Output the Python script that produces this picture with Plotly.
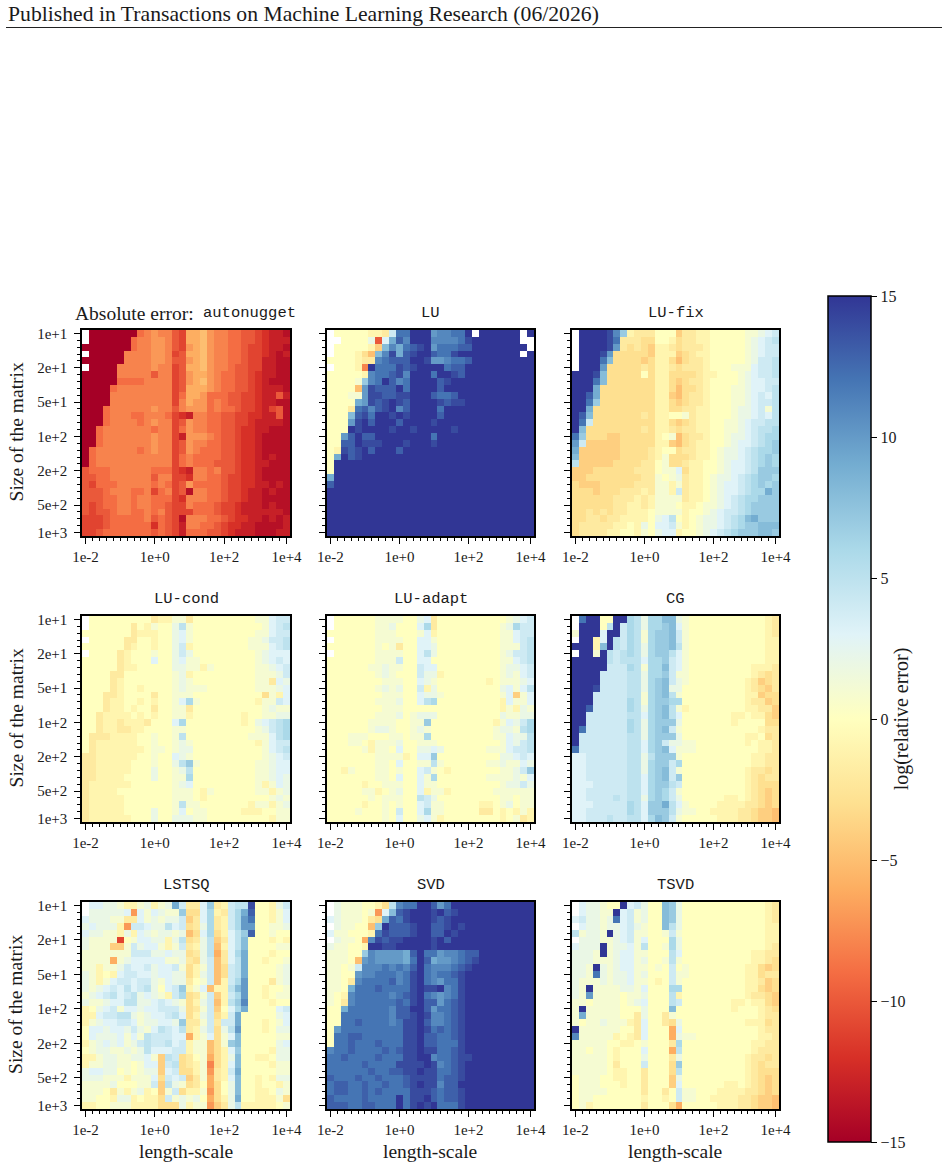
import plotly.graph_objects as go

# Error grids: one string per matrix size, one character per length-scale.
# '0'-'9','A'-'F' are 0..15, 'a'-'o' are -1..-15, '.' is a missing run.
AUTONUGGET = [
".oooo oooih ghhjk ffegh hiijj klmmn",
".oooo ooihh gghjk ffegh hiijj klmmm",
"ooooo ooihh gghjk gfegh hiijk klmmn",
".oooo ohhhh gghkj ffegh hiijk klmnm",
"ooooo ohhhh gghjj gfegh hiijk kmmnn",
".oooo hhhhh ghhkj ffegh hijjk kmmnn",
"ooooo hhhhh jhhkj gffgh iijjk lmmnn",
"ooooo iiiih hhhkj gfegh iijjk lmnnn",
"ooooi hhhhh hhhkj fffgh iijjk lmmmn",
"ooooh hhhhh hhhki ffgii ijjkk lmmjm",
"ooooh hhhhh hhhkh fggih ijjkk lmmnn",
"oooih hhhhh ghhjh gggih iijkk lmkjn",
"oooih hhiih hhikl mhhii jjkkl lmmjn",
"oooih hhhih ghhkj ghhii jjkkl mmmmn",
"ooihh hhhhh ihhki ghhii jjkll mmnnn",
"ooihh hhhhh ghhkm ggghi jjkll mnnnn",
"ooihh hhhhh ghhkj ghhii jjkll mnnnn",
"oihhh hhhih ghhkj ghiii jjkll mnnnn",
"oihhh hhhhh hhhki hiiii jjkll mnmnn",
"oihhh hhhhh hhhki hiiij jjkll mmnnn",
"jiiih hhhhh iiikl mhhih jjkll mnnnn",
"jjiih hhhhh jhhkk lhhii jkkll mnnnn",
"jkiii hhhhh ihikj giiii jkkll mmnmn",
"jjjih hhiih kihkj nhhii jkklm mnmnn",
"jjjii hhihh iiikl hhhii jkklm mnnnn",
"jkjii hhihh iijkk hiiij kklmm mnmnn",
"jkjji hhiih ihjkk kiiij kklmm mmmmn",
"kkkji iiiih jijkn hhhii jkllm mnmnm",
"kkkji iiiii lijkm hhiij kllmm nnnnm",
"kkjii iiiii jijkm iiijj klmmm nnnmm",
]
LU = [
".0000 0aab4 CCFFF ABBCC F.FFF FFF.F",
"..000 02j39 DBFFF BBBBC EFFFF FFF..",
".0000 0ad8B 9CDEF ACCCD DFFFF FFFF.",
".000a ce8BE 9DEFF DCCEF FFFFF FFF.F",
"0000a bbBCD DDFFE AABCC DFFFF FFFFF",
".000a hFCCC EDEFF FFCDD FFFFF FFFFF",
"00000 aBCCD EBFFF CFFED FFFFF FFFFF",
"00001 7BCFD BCFFF FDEFF FFFFF FFFFF",
"0000e AEDDD FCFFF FDFFF FFFFF FFFFF",
"00011 AEEDD EEFFF DCCDF FFFFF FFFFF",
"00009 AEDEF EDFFF FEDEE FFFFF FFFFF",
"000bC DBDEF BDFFF FCFFF FFFFF FFFFF",
"0008D ECFFE FEFFF FDFFF FFFFF FFFFF",
"000AE FDFFF DFFFF EFFFF FFFFF FFFFF",
"000FE FFFFE FFEFF FFFEF FFFFF FFFFF",
"00ADF DDFFF FFFFF CFFFF FFFFF FFFFF",
"00DDF EEEFF FEFFF EFFFF FFFFF FFFFF",
"0aEDE FDFFF DFFFF FFFFF FFFFF FFFFF",
"09FDE FFFFF FFFFF FFFFF FFFFF FFFFF",
"0FFFF FFFFF FFFFF FFFFF FFFFF FFFFF",
"0FFFF FFFFF FFFFF FFFFF FFFFF FFFFF",
"9FFFF FFFFF FFFFF FFFFF FFFFF FFFFF",
"DFFFF FFFFF FFFFF FFFFF FFFFF FFFFF",
"FFFFF FFFFF FFFFF FFFFF FFFFF FFFFF",
"FFFFF FFFFF FFFFF FFFFF FFFFF FFFFF",
"FFFFF FFFFF FFFFF FFFFF FFFFF FFFFF",
"FFFFF FFFFF FFFFF FFFFF FFFFF FFFFF",
"FFFFF FFFFF FFFFF FFFFF FFFFF FFFFF",
"FFFFF FFFFF FFFFF FFFFF FFFFF FFFFF",
"FFFFF FFFFF FFFFF FFFFF FFFFF FFFFF",
]
LU_FIX = [
".FFFF EB7ab bb000 dbbaa 00000 11234",
".FFFF ECbbb cc00a cbbaa 00000 12345",
".FFFF EAbcb cdaab cbbba 00000 12344",
".FFFE Acccc cdaaa dcbaa 00000 12344",
".FFFC 8cccc dcaac ecbba 00000 12445",
".FFFA ccccc bcaab cbbba 00011 13445",
"FFFE8 ccccc 0caac cccba a0001 23445",
"FFFC8 ccccc ccaac dcbba 00001 23344",
"FFF9c ccccc ccaac eccba 00011 23345",
"FFD9c ccccc ccaad ecbba 00011 23435",
"FFC7c ccccc ccaac dcbba 00011 23445",
"FF9cc ccccc ccaac cbbaa 00012 23415",
"FD8cc ccccc bcaa0 01baa 00012 23435",
"FC4cc ccccc ccaac dcbaa 00112 34455",
"F8ccc ccccc bcaab cbbaa 00112 34556",
"C7ccc ddccc cca01 ecbba 00122 34566",
"A4ddd ddccc ccaad ecbaa 00123 34567",
"9dddd ddccc cba00 cbbaa 01223 45667",
"8dddd ddccc cba1c ccbaa 01223 45676",
"5dddd dcccc bb01c cbaa0 01233 45676",
"dddcc ccccb bb011 3caa0 01233 45777",
"ddccc ccccc bb101 2baa0 12234 56776",
"cdddc ccccb bb11a 1baa0 12334 56767",
"cccdc ccbbb ab11a 4baa0 12334 56697",
"ccccc cbbba ba111 1baa0 12345 66777",
"ccccc cbbaa ba111 0aa01 12345 67777",
"ccbcb cbbaa a0111 1a001 23445 67777",
"ccbbc bbaaa a0235 0a012 23456 89777",
"cbbbb baa0a 20334 1a012 23456 77888",
"cbbbb aa00a 10233 a0012 34567 77887",
]
LU_COND = [
".0000 00000 baa11 b0000 00000 11344",
".0000 00b0a 10025 10000 00000 01345",
"00000 00baa a0023 10000 00000 11344",
".0000 0bb00 a0023 10000 00001 12445",
"00000 0ba00 a0024 a0000 00001 11345",
".0000 ba000 10024 20000 00000 12333",
"00000 ba000 30023 11000 00000 12343",
"00000 baa00 00022 11a10 00000 11234",
"0000b b0000 00012 a0000 00000 11124",
"0000b a0000 00012 10000 00000 11b32",
"0000b a00a0 00012 11100 00000 11123",
"000bb a0000 b0011 10000 00000 0c1a3",
"000ba a00a0 a0013 61000 00000 a1143",
"000ba a0a00 b0011 b0000 00000 01211",
"00baa aa0a0 a0011 a0000 000a0 01122",
"00baa baaab 00036 00000 000a0 23456",
"00baa bbaa0 00011 00000 00000 12456",
"0bbba aaa00 10015 00000 00001 11356",
"0baaa aaa00 10012 10000 00000 a1344",
"0baaa aaaa0 11012 20000 00000 01345",
"bbaaa aaa00 10032 10000 00000 01234",
"bbaaa aa000 10025 71000 00000 11233",
"bbaaa aa000 20012 50000 00000 11233",
"bbaaa a0000 20011 60000 00000 11232",
"baaaa aa000 00012 30000 00000 1a132",
"baaaa 00000 00011 10a10 00000 11a12",
"baaaa a0000 00011 10a00 00000 00121",
"baaaa a0000 00015 11000 0000a 11a12",
"baaaa a0000 20013 01100 000aa a0011",
"baaaa aa000 20022 21100 00000 00a11",
]
LU_ADAPT = [
".0000 00111 10023 b0000 00000 01234",
".0000 00112 00036 b0000 00000 12644",
"00000 00111 00013 a0000 00000 11344",
".0000 00111 10033 10000 00000 11345",
"00000 00101 b0033 20000 00000 11145",
".0000 00111 10035 20000 00000 12445",
"00000 00111 40033 00000 00000 11345",
"00000 01121 10043 30000 00000 12234",
"00000 00121 00042 2a000 00000 12134",
"00000 00011 10032 10000 000a0 11123",
"00000 00121 2004a 20000 00000 23135",
"00000 00011 10032 21000 00000 13d13",
"00000 00111 20035 60000 00000 a3113",
"00000 00011 10000 00000 00000 a1a21",
"00000 00111 20122 20000 00000 21122",
"00000 01111 00117 00000 0000a 13246",
"00000 01221 00121 00000 00001 22156",
"00011 10001 10116 00000 00001 13225",
"00011 0a111 20011 10000 00000 13245",
"00000 1a110 30022 32000 00011 13445",
"00000 00111 1a033 70000 00000 22343",
"00000 00110 30011 51000 00011 21132",
"00a10 00110 10034 10a00 00000 11247",
"00000 00110 30031 60000 00011 11213",
"00000 a0011 10031 10000 00000 12242",
"00000 11a01 2003a 11a00 00001 11111",
"00000 01011 10054 20000 00000 11011",
"00000 a0010 10034 11000 00aa0 12011",
"00001 00010 40036 11000 00bb0 a0a1a",
"00000 00010 30023 1a000 00000 a01ba",
]
CG = [
".CFF0 0FF65 26688 21000 00000 000ab",
".FFF0 5F465 26678 31000 00000 000ab",
"1FFF3 FF465 16778 41000 00000 000ab",
".FFa3 F5465 16778 41000 00000 000aa",
"FFFa8 F5465 26778 51000 00000 000aa",
".FF1F 54565 26775 31000 00000 000aa",
"FFFFF 54555 36674 31000 00000 000aa",
"FFFFF 44465 16684 31000 00000 0aaab",
"FFFF4 44455 26674 11000 00000 0abcb",
"FFFF4 44455 26784 21000 00000 abdcb",
"FFFE4 44455 26782 20000 00000 abcdb",
"FFF44 44455 16785 10000 00000 aadcc",
"FFF44 44465 16776 60000 00000 abbdc",
"FFD44 44465 26785 1a000 00000 aabbd",
"FF444 44455 36785 30000 000aa 0aacd",
"FF444 44465 26777 20000 000a0 000cc",
"FC444 44465 26784 10000 00000 00abb",
"F4444 44455 26777 20000 00000 aa0cb",
"F4444 44455 36742 21100 00000 a0aab",
"C4444 44455 36783 11100 00000 00aab",
"33444 44455 25777 10000 00000 0aabb",
"33444 44455 26774 60000 00000 0aabb",
"33444 44455 26784 10000 00000 abbcb",
"33444 44455 36784 70000 00000 abcbb",
"33344 44455 36775 40000 00000 abccc",
"33444 44455 36764 10000 00000 abcdc",
"33444 45455 26764 20000 00aa0 abcdc",
"33344 44465 37795 31000 0aaaa bbcdc",
"33444 44465 37775 21100 aaaab bcdde",
"33444 54455 36874 10000 0aaab bcdde",
]
LSTSQ = [
".3322 1aa12 a1294 bb37b a455E 00a24",
".2222 23g31 32117 cc36a b469D 00a13",
"32221 1bb31 21224 db36b a46AC 00a13",
"23222 ag443 22534 cb26b a46AA 00112",
"32211 a2a32 12212 ec36c a357D 00100",
"21111 k0133 22a25 cb25d b3580 00a0a",
"2111d d1423 31a14 ba25e a3580 00011",
"11111 11444 22322 cb25f b3690 00a00",
"1111f 12333 33112 bc24e b3590 0a001",
"11a11 24334 23341 ca14e c4590 00012",
"21a0a 34433 23322 ca24e c4590 00012",
"21a13 44344 21322 b014e a46A0 00b12",
"21234 35345 20347 a13ea a58A0 0a001",
"12345 34523 21a46 cb14d a46A0 0a011",
"21123 35522 34321 ca24e a57B0 00a00",
"a0234 13323 34442 cb14d 03690 00034",
"aa344 55212 33453 ca24c a4900 00023",
"a1233 44312 23327 bb14b 44900 0a013",
"03323 32421 35435 ba24c 25A00 0a022",
"03222 31315 44433 fa13c 13800 00011",
"a1232 31245 44534 a11ec 17800 00023",
"01221 12125 33344 a11ec a3700 00a22",
"aa122 11223 1d54c b01fc a2800 aa022",
"a1122 11013 3d45c ba1hc a3800 00a11",
"23322 01012 2d34c ca1gb a4900 00011",
"22211 1a111 3c434 db1fb a3800 a0a22",
"11112 00011 4d521 cb0fc 02800 a00a1",
"1110b 1a12a 0d14c aa1gc 02800 aa021",
"1100a 22a0a ac412 120fc a2900 aaa1c",
"aa001 11aaa accc2 a11gd b25aa aaa01",
]
SVD = [
".2111 00ac5 BCCFF DACFF FFFFF FFFFF",
".2111 01g38 DEFFF EFDEF FFFFF FFFFF",
"32111 0bc9D CEFFF EDEFF FFFFF FFFFF",
".2110 0e7FD DDEFF DDEFE FFFFF FFFFF",
"31100 0aCED DDEFF DDFEF FFFFF FFFFF",
".2110 fBEDE EFFFF EFDFF FFFFF FFFFF",
"21100 aFFEE FFFFF EFFFF FFFFF FFFFF",
"11100 7BAAA A9DFC CABBC DDFFF FFFFF",
"1110e ABAAA A9CFD 9AABC DEFFF FFFFF",
"11014 BBBCB CBDFC BBBCD EFFFF FFFFF",
"1100A BBCCC BCEFC BCCDE FFFFF FFFFF",
"110bB CCCCD BCEFC BACCE FFFFF FFFFF",
"1109C CCDCC CCEFE EFBCE FFFFF FFFFF",
"10aBC CCCCB CDEFC BABCE FFFFF FFFFF",
"10bBC CCCCC DCEFD DACDE FFFFF FFFFF",
"009CC CCCCB DDFFD ACCDE FFFFF FFFFF",
"00CCC CCCCB DDEFE BBCDE FFFFF FFFFF",
"00CCD CCCCB CEEFD BBCDE FFFFF FFFFF",
"0ACCC CCCCC CEEFE CDCDE FFFFF FFFFF",
"0CCDD CCCCC CEEFD DCCDE FFFFF FFFFF",
"0CCDC CCDCC CEEFD DCCCE FFFFF FFFFF",
"BCCDC CCCDC DEEFE ECCDE FFFFF FFFFF",
"CCDCC CCDCC CEEFF BCCDE EFFFF FFFFF",
"CCCCC DCCCC EEEEF EBCDE FFFFF FFFFF",
"CCCCC CDCCD DEEFE ECCDE FFFFF FFFFF",
"DCCCD CCDCC CDEEE ECDDE FFFFF FFFFF",
"CDDCC DCCDC CDEFE EBDDF FFFFF FFFFF",
"CDDCC DCDCC CCEEE DCDDE FFFFF FFFFF",
"DCCCC DCCCC FCEEF DCDDE FFFFF FFFFF",
"DDDCC DDCCC FCEFE FCCCE FFFFF FFFFF",
]
TSVD = [
".3221 00F34 20087 20000 00000 000ab",
".3221 1F341 20087 20000 00000 000ab",
"34221 2C341 20087 20000 00000 000ab",
".3221 22342 10085 20000 00000 000aa",
"51221 F2341 10014 10000 00000 000aa",
".2221 12341 30006 20000 00000 000aa",
"3222F 12231 50016 20000 00000 000ab",
"2221F 12331 10005 30000 00000 0aabb",
"22211 12331 20015 10000 00000 0aabc",
"221F2 12331 10104 01000 00000 aacdc",
"221C2 12231 20004 11000 00000 aacbb",
"21112 12231 10a04 10000 00000 aabdc",
"21F11 11221 30006 60000 00000 aacdc",
"21A11 11011 20005 a0000 00000 abbcd",
"11011 11012 30005 40000 000aa 0aacd",
"1F111 11000 20008 00000 000a0 00abc",
"19111 1100b 200b1 00000 00000 00abb",
"10112 111ab 300bc 20000 00000 aaacb",
"F1111 1100b 3000f 30000 00000 00abb",
"B1111 1a0ab 3000f 21100 00000 00aab",
"11111 00aa0 1000b 60000 00000 0aabb",
"11011 0a000 3000f 50000 00000 0abbb",
"11111 0a000 2000b 20000 00000 abbcb",
"11111 0b000 4000c 70000 00000 abcbb",
"11111 0aa00 b000c 50000 00000 abccc",
"01110 0aa00 b000d 20000 00000 abcdc",
"01110 00a00 b000d 30000 00aa0 abcdc",
"01111 00000 b00b0 41100 0aaaa bbcdc",
"01100 00000 a00a0 41100 aaaab bcdde",
"01a00 00000 b000c f0000 0aaab bcdde",
]

PANELS = [
    ("", AUTONUGGET), ("LU", LU), ("LU-fix", LU_FIX),
    ("LU-cond", LU_COND), ("LU-adapt", LU_ADAPT), ("CG", CG),
    ("LSTSQ", LSTSQ), ("SVD", SVD), ("TSVD", TSVD),
]

X_TICK_POS = [0, 10, 20, 29]
X_TICK_TEXT = ["1e-2", "1e+0", "1e+2", "1e+4"]
Y_TICK_POS = [0, 5, 10, 15, 20, 25, 29]
Y_TICK_TEXT = ["1e+1", "2e+1", "5e+1", "1e+2", "2e+2", "5e+2", "1e+3"]
CBAR_TICKS = [-15, -10, -5, 0, 5, 10, 15]
CBAR_TEXT = ["\u221215", "\u221210", "\u22125", "0", "5", "10", "15"]
RDYLBU = ["#a50026", "#d73027", "#f46d43", "#fdae61", "#fee090", "#ffffbf",
          "#e0f3f8", "#abd9e9", "#74add1", "#4575b4", "#313695"]

LEVELS = {".": None}
LEVELS.update({c: i for i, c in enumerate("0123456789ABCDEF")})
LEVELS.update({c: -i for i, c in enumerate("abcdefghijklmno", 1)})


def decode(rows):
    grid = []
    for row in rows:
        cells = row.replace(" ", "")
        cells = cells.ljust(30, cells[-1])[:30]
        grid.append([LEVELS[c] for c in cells])
    return grid


W, H = 948, 1167
SERIF = "Liberation Serif"
MONO = "Liberation Mono"
INK = "#1a1a1a"
COL_X = [(82, 290), (327, 534), (572, 779)]
ROW_Y = [(330, 536), (616, 822), (902, 1109)]
SEQ = list(range(30))

fig = go.Figure()
annotations = []

for idx, (title, rows) in enumerate(PANELS):
    r, c = divmod(idx, 3)
    n = idx + 1
    suffix = "" if n == 1 else str(n)
    fig.add_trace(go.Heatmap(
        z=decode(rows), x=SEQ, y=SEQ, coloraxis="coloraxis",
        xaxis="x" + suffix, yaxis="y" + suffix, hoverongaps=False,
    ))
    x0, x1 = COL_X[c]
    y0, y1 = ROW_Y[r]
    common = dict(
        showline=True, linecolor="black", linewidth=1.5, mirror=True,
        showgrid=False, zeroline=False, ticks="outside", ticklen=6,
        tickwidth=1.2, tickcolor="black", tickmode="array",
        tickfont=dict(family=SERIF, size=15, color=INK),
        automargin=False,
        minor=dict(tickmode="array", tickvals=SEQ, ticks="outside",
                   ticklen=3.5, tickwidth=1, tickcolor="black"),
    )
    fig.update_layout({
        "xaxis" + suffix: dict(
            common, domain=[x0 / W, x1 / W], range=[-0.5, 29.5],
            tickvals=X_TICK_POS, ticktext=X_TICK_TEXT,
            anchor="y" + suffix,
        ),
        "yaxis" + suffix: dict(
            common, domain=[1 - y1 / H, 1 - y0 / H], range=[29.5, -0.5],
            tickvals=Y_TICK_POS, ticktext=Y_TICK_TEXT,
            showticklabels=c == 0, anchor="x" + suffix,
            ticklabelstandoff=4,
        ),
    })
    if r == 2:
        annotations.append(dict(
            text="length-scale", xref="paper", yref="paper",
            x=(x0 + x1) / 2 / W - 0.0005, y=1 - 1151 / H,
            xanchor="center", yanchor="middle", showarrow=False,
            font=dict(family=SERIF, size=19.5, color=INK),
        ))
    if c == 0:
        annotations.append(dict(
            text="Size of the matrix", xref="paper", yref="paper",
            x=16 / W, y=1 - (y0 + y1) / 2 / H + 0.0005, textangle=-90,
            xanchor="center", yanchor="middle", showarrow=False,
            font=dict(family=SERIF, size=19.5, color=INK),
        ))
    if title:
        annotations.append(dict(
            text=title, xref="paper", yref="paper",
            x=(x0 + x1) / 2 / W, y=1 - (y0 - 17) / H,
            xanchor="center", yanchor="middle", showarrow=False,
            font=dict(family=MONO, size=15.5, color=INK),
        ))

annotations += [
    dict(text="Absolute error:", xref="paper", yref="paper", x=73 / W,
         y=1 - 313 / H, xanchor="left", yanchor="middle", showarrow=False,
         font=dict(family=SERIF, size=19.5, color=INK)),
    dict(text="autonugget", xref="paper", yref="paper", x=298 / W,
         y=1 - 313 / H, xanchor="right", yanchor="middle", showarrow=False,
         font=dict(family=MONO, size=15.5, color=INK)),
    dict(text="Published in Transactions on Machine Learning Research (06/2026)",
         xref="paper", yref="paper", x=6 / W, y=1 - 14 / H, xanchor="left",
         yanchor="middle", showarrow=False,
         font=dict(family=SERIF, size=21.7, color=INK)),
]

fig.update_layout(
    width=W, height=H, autosize=False,
    margin=dict(l=0, r=0, t=0, b=0, autoexpand=False),
    paper_bgcolor="white", plot_bgcolor="white", annotations=annotations,
    shapes=[dict(type="line", xref="paper", yref="paper", x0=6 / W, x1=942 / W,
                 y0=1 - 27.5 / H, y1=1 - 27.5 / H,
                 line=dict(color="#222222", width=1))],
    coloraxis=dict(
        cmin=-15, cmax=15,
        colorscale=[[i / 10, col] for i, col in enumerate(RDYLBU)],
        colorbar=dict(
            x=828 / W, xanchor="left", y=1 - 296 / H, yanchor="top",
            xpad=0, ypad=0, thickness=43, thicknessmode="pixels",
            len=846, lenmode="pixels", outlinecolor="black", outlinewidth=1.5,
            ticks="outside", ticklen=6, tickwidth=1.2, tickcolor="black",
            tickmode="array", tickvals=CBAR_TICKS, ticktext=CBAR_TEXT,
            tickfont=dict(family=SERIF, size=16, color=INK),
            title=dict(text="log(relative error)", side="right",
                       font=dict(family=SERIF, size=20, color=INK)),
        ),
    ),
)

fig.write_html("out.html")
